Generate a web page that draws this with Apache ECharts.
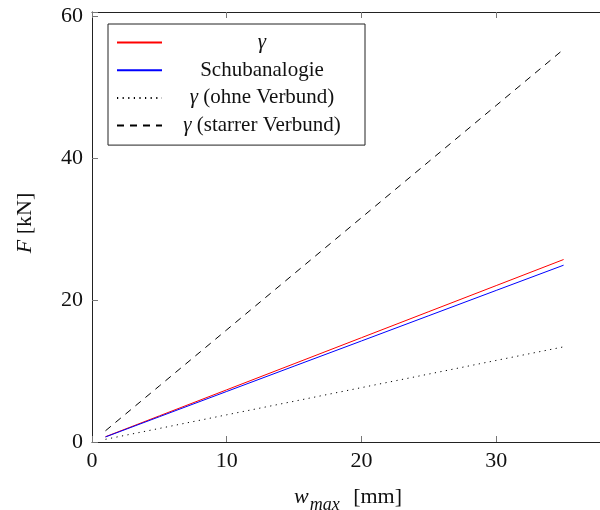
<!DOCTYPE html>
<html>
<head>
<meta charset="utf-8">
<script src="https://cdn.jsdelivr.net/npm/echarts@6/dist/echarts.min.js"></script>
<style>
  html, body { margin: 0; padding: 0; background: #fff; }
  #chart { width: 600px; height: 510px; }
</style>
</head>
<body>
<div id="chart"></div>
<script>
// Deflection w_max [mm] at which each load level was evaluated
const wMax = [1, 5, 10, 15, 20, 25, 30, 35];
// Load F [kN] per model
const gammaF = [0.74, 3.68, 7.35, 11.02, 14.69, 18.36, 22.03, 25.7];
const schubF = [0.71, 3.56, 7.12, 10.68, 14.23, 17.79, 21.35, 24.9];
const ohneF = [0.38, 1.91, 3.83, 5.74, 7.66, 9.57, 11.49, 13.4];
const starrF = [1.58, 7.9, 15.8, 23.7, 31.6, 39.5, 47.4, 55.3];
const seriesNames = ['γ', 'Schubanalogie', 'γ (ohne Verbund)', 'γ (starrer Verbund)'];
const xTicks = [0, 10, 20, 30];
const yTicks = [0, 20, 40, 60];

const serif = 'Liberation Serif';
const pair = (ys) => wMax.map((x, i) => [x, ys[i]]);

const chart = echarts.init(document.getElementById('chart'), null, { renderer: 'canvas' });

function legendLabel(name) {
  // a leading γ is set in italic like the math symbol; every token is centred
  if (name.startsWith('γ')) {
    const rest = name.slice(1);
    return '{g|γ}' + (rest ? '{t|' + rest + '}' : '');
  }
  return '{t|' + name + '}';
}

const axisCommon = {
  axisLine: { show: true, onZero: false, lineStyle: { color: '#222', width: 1 } },
  axisTick: { show: true, inside: true, length: 6, lineStyle: { color: '#777', width: 1 } },
  splitLine: { show: false },
};

const legendFont = 21;

chart.setOption({
  animation: false,
  backgroundColor: '#fff',
  grid: { left: 92, right: -4, top: 12, bottom: 68, containLabel: false, outerBoundsMode: 'none' },
  legend: {
    left: 108, top: 24,
    orient: 'vertical',
    backgroundColor: '#fff',
    borderColor: '#222', borderWidth: 1, borderRadius: 0,
    padding: [8, 8, 9, 8],
    itemWidth: 45, itemHeight: 18, itemGap: 6.7,
    itemStyle: { opacity: 0 },
    data: seriesNames,
    formatter: legendLabel,
    textStyle: {
      fontFamily: serif, fontSize: legendFont, color: '#111',
      width: 190, lineHeight: 18,
      rich: {
        t: { align: 'center', fontFamily: serif, fontSize: legendFont, lineHeight: 18, color: '#111' },
        g: { align: 'center', fontStyle: 'italic', fontFamily: serif, fontSize: legendFont, lineHeight: 18, color: '#111' }
      }
    }
  },
  xAxis: [
    Object.assign({}, axisCommon, {
      type: 'value', min: 0, max: 38, interval: 10, position: 'bottom',
      name: '{i|w}{s|max}{r| [mm]}', nameLocation: 'middle', nameGap: 44,
      nameTextStyle: {
        fontFamily: serif, fontSize: 22, color: '#111',
        rich: {
          i: { fontStyle: 'italic', fontFamily: serif, fontSize: 22, verticalAlign: 'top' },
          s: { fontStyle: 'italic', fontFamily: serif, fontSize: 18, verticalAlign: 'bottom', padding: [10, 8, 0, 1] },
          r: { fontFamily: serif, fontSize: 22, verticalAlign: 'top' }
        }
      },
      axisLabel: {
        margin: 8, fontFamily: serif, fontSize: 22, color: '#111',
        formatter: (v) => xTicks.includes(v) ? String(v) : ''
      }
    }),
    Object.assign({}, axisCommon, {
      type: 'value', min: 0, max: 38, interval: 10, position: 'top',
      axisLabel: { show: false }
    })
  ],
  yAxis: [
    Object.assign({}, axisCommon, {
      type: 'value', min: 0, max: 60.56, interval: 20,
      name: '{i|F} [kN]', nameLocation: 'middle', nameGap: 56, nameRotate: 90,
      nameTextStyle: {
        fontFamily: serif, fontSize: 22, color: '#111', padding: [0, 0, 0, 8],
        rich: { i: { fontStyle: 'italic', fontFamily: serif, fontSize: 22 } }
      },
      axisLabel: {
        margin: 9, fontFamily: serif, fontSize: 22, color: '#111',
        formatter: (v) => yTicks.includes(v) ? String(v) : ''
      }
    })
  ],
  series: [
    { name: seriesNames[0], type: 'line', data: pair(gammaF), showSymbol: false, symbol: 'none',
      lineStyle: { color: '#ff0000', width: 1 }, itemStyle: { color: '#ff0000' } },
    { name: seriesNames[1], type: 'line', data: pair(schubF), showSymbol: false, symbol: 'none',
      lineStyle: { color: '#0000ff', width: 1 }, itemStyle: { color: '#0000ff' } },
    { name: seriesNames[2], type: 'line', data: pair(ohneF), showSymbol: false, symbol: 'none',
      lineStyle: { color: '#000', width: 1, type: [1.2, 4.4] }, itemStyle: { color: '#000' } },
    { name: seriesNames[3], type: 'line', data: pair(starrF), showSymbol: false, symbol: 'none',
      lineStyle: { color: '#000', width: 1, type: [7, 6] }, itemStyle: { color: '#000' } }
  ]
});
</script>
</body>
</html>
